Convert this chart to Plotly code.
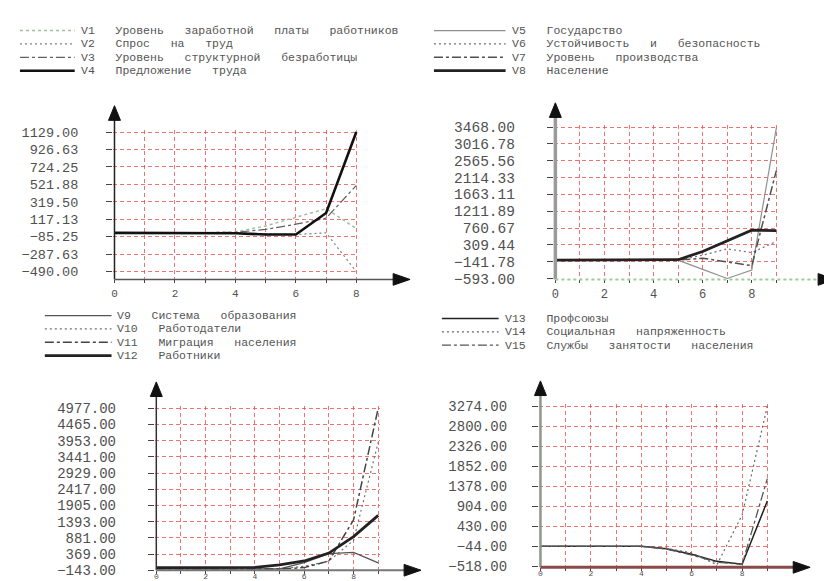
import plotly.graph_objects as go

W, H = 832, 581

# ---------------- data ----------------
X8 = [0, 1, 2, 3, 4, 5, 6, 7, 8]
X9 = [0, 1, 2, 3, 4, 5, 6, 7, 8, 9]

# top-left panel
NAMES_TL = ["V1 Уровень заработной платы работников", "V2 Спрос на труд",
            "V3 Уровень структурной безработицы", "V4 Предложение труда"]
V1 = [-40, -40, -40, -40, -30, 40, 140, 240, 10]
V2 = [-40, -40, -40, -40, -40, -50, -60, -40, -490]
V3 = [-40, -40, -40, -40, -35, 0, 60, 130, 510]
V4 = [-40, -40, -40, -40, -45, -60, -60, 190, 1129]
YT_TL = [1129.00, 926.63, 724.25, 521.88, 319.50, 117.13, -85.25, -287.63, -490.00]

# top-right panel
NAMES_TR = ["V5 Государство", "V6 Устойчивость и безопасность",
            "V7 Уровень производства", "V8 Население"]
V5 = [-100, -100, -100, -100, -100, -100, -350, -593, -370, 3440]
V6 = [-100, -100, -100, -100, -100, -100, 30, 200, 100, 400]
V7 = [-100, -100, -100, -100, -100, -100, -50, -150, -250, 2300]
V8 = [-100, -100, -100, -100, -100, -90, 130, 410, 700, 690]
YT_TR = [3468.00, 3016.78, 2565.56, 2114.33, 1663.11, 1211.89, 760.67, 309.44, -141.78, -593.00]

# bottom-left panel
NAMES_BL = ["V9 Система образования", "V10 Работодатели",
            "V11 Миграция населения", "V12 Работники"]
V9 = [-100, -100, -100, -100, -100, -100, 100, 380, 420, 90]
V10 = [-100, -100, -100, -100, -100, -100, -20, 150, 800, 3900]
V11 = [-100, -100, -100, -100, -100, -100, -60, 150, 1450, 4977]
V12 = [-60, -60, -60, -60, -50, 30, 150, 400, 920, 1590]
YT_BL = [4977.00, 4465.00, 3953.00, 3441.00, 2929.00, 2417.00, 1905.00, 1393.00, 881.00, 369.00, -143.00]

# bottom-right panel
NAMES_BR = ["V13 Профсоюзы", "V14 Социальная напряженность",
            "V15 Службы занятости населения"]
V13 = [-44, -44, -44, -44, -44, -100, -230, -400, -470, 1030]
V14 = [-44, -44, -44, -44, -44, -90, -200, -480, 700, 3274]
V15 = [-44, -44, -44, -44, -44, -110, -250, -420, -470, 1560]
YT_BR = [3274.00, 2800.00, 2326.00, 1852.00, 1378.00, 904.00, 430.00, -44.00, -518.00]

XT_LABELS8 = ["0", "", "2", "", "4", "", "6", "", "8"]
XT_LABELS9 = ["0", "", "2", "", "4", "", "6", "", "8", ""]

# ---------------- styles / layout ----------------
FONT = "Liberation Mono, Courier New, monospace"
S_TL = [dict(color="#9fbf9f", width=1.5, dash="dot"),
        dict(color="#808080", width=1.2, dash="2px,3px"),
        dict(color="#606060", width=1.2, dash="dashdot"),
        dict(color="#111111", width=2.6, dash="solid")]
S_TR = [dict(color="#909090", width=1.2, dash="solid"),
        dict(color="#707070", width=1.2, dash="2px,3px"),
        dict(color="#505050", width=1.5, dash="dashdot"),
        dict(color="#222222", width=2.8, dash="solid")]
S_BL = [dict(color="#555555", width=1.3, dash="solid"),
        dict(color="#707070", width=1.2, dash="2px,3px"),
        dict(color="#444444", width=1.5, dash="dashdot"),
        dict(color="#222222", width=2.8, dash="solid")]
S_BR = [dict(color="#222222", width=1.5, dash="solid"),
        dict(color="#666666", width=1.2, dash="2px,3px"),
        dict(color="#555555", width=1.3, dash="dashdot")]

panels = [
    dict(x=X8, series=[V1, V2, V3, V4], names=NAMES_TL, styles=S_TL, yt=YT_TL, xt=XT_LABELS8,
         px0=105, px1=348, top_px=122, bot_px=265, dom_top=120, dom_bot=273,
         ytip=95, xtip=402, tickfont=13.5, standoff=25, xfont=11, xlen=3, xstand=0,
         yaxis_line=dict(color="#222222", width=1.5), xaxis_line=dict(color="#555555", width=1.5),
         leg_x0=10, leg_x1=65, leg_tx=69, leg_y0=18),
    dict(x=X9, series=[V5, V6, V7, V8], names=NAMES_TR, styles=S_TR, yt=YT_TR, xt=XT_LABELS9,
         px0=548, px1=770, top_px=117, bot_px=272, dom_top=115, dom_bot=273,
         ytip=92, xtip=829, tickfont=14.5, standoff=29, xfont=12, xlen=3, xstand=0,
         yaxis_line=dict(color="#9a9a9a", width=3.5), xaxis_line=dict(color="#99cc99", width=2, dash="dot"),
         leg_x0=426, leg_x1=498, leg_tx=502, leg_y0=18),
    dict(x=X9, series=[V9, V10, V11, V12], names=NAMES_BL, styles=S_BL, yt=YT_BL, xt=XT_LABELS9,
         px0=147, px1=370, top_px=405, bot_px=571, dom_top=403, dom_bot=571,
         ytip=378, xtip=413, tickfont=14, standoff=29, xfont=8, xlen=3, xstand=-5,
         yaxis_line=dict(color="#333333", width=1.5), xaxis_line=dict(color="#777777", width=2),
         leg_x0=35, leg_x1=102, leg_tx=106, leg_y0=310),
    dict(x=X9, series=[V13, V14, V15], names=NAMES_BR, styles=S_BR, yt=YT_BR, xt=XT_LABELS9,
         px0=533, px1=761, top_px=403, bot_px=567, dom_top=401, dom_bot=568,
         ytip=377, xtip=804, tickfont=14, standoff=22, xfont=8, xlen=3, xstand=-5,
         yaxis_line=dict(color="#8a9a8a", width=2.5), xaxis_line=dict(color="#8b4a4a", width=3),
         leg_x0=434, leg_x1=491, leg_tx=495, leg_y0=313),
]

LEG_DY = 13.7
LEG_FONT = 11.5
WORD_GAP = "\u00a0\u00a0\u00a0"


def fx(px):
    return px / W


def fy(py):
    return 1 - py / H


fig = go.Figure()
shapes = []
annotations = []
layout = {}

for i, p in enumerate(panels, start=1):
    xa = "x" if i == 1 else f"x{i}"
    ya = "y" if i == 1 else f"y{i}"
    xmax = p["x"][-1]
    # x mapping
    sx = (p["px1"] - p["px0"]) / xmax
    xr = [-1.5 / sx, xmax + 1.5 / sx]
    xd = [fx(p["px0"] - 1.5), fx(p["px1"] + 1.5)]
    # y mapping
    ytop, ybot = p["yt"][0], p["yt"][-1]
    sy = (p["bot_px"] - p["top_px"]) / (ytop - ybot)
    yr = [ybot - (p["dom_bot"] - p["bot_px"]) / sy, ytop + (p["top_px"] - p["dom_top"]) / sy]
    yd = [fy(p["dom_bot"]), fy(p["dom_top"])]

    for vals, name, st in zip(p["series"], p["names"], p["styles"]):
        fig.add_trace(go.Scatter(x=p["x"], y=vals, name=name, mode="lines", line=st,
                                 xaxis=xa, yaxis=ya, showlegend=False))

    grid = dict(showgrid=True, gridcolor="rgba(232,70,70,0.75)", gridwidth=1, griddash="4px,3px",
                zeroline=False, showline=False, ticks="outside", tickcolor="#444444",
                tickwidth=1.2, fixedrange=True)
    layout["xaxis" if i == 1 else f"xaxis{i}"] = dict(
        grid, domain=xd, range=xr, anchor=ya, tickmode="array", tickvals=p["x"], ticktext=p["xt"],
        ticklen=p["xlen"], ticklabelstandoff=p["xstand"],
        tickfont=dict(family=FONT, size=p["xfont"], color="#505050"))
    layout["yaxis" if i == 1 else f"yaxis{i}"] = dict(
        grid, domain=yd, range=yr, anchor=xa, tickmode="array", tickvals=p["yt"], tickformat=".2f",
        ticklen=6, ticklabelstandoff=p["standoff"],
        tickfont=dict(family=FONT, size=p["tickfont"], color="#505050"))

    # axis lines with arrows
    ox, oy = p["px0"], p["dom_bot"]
    shapes.append(dict(type="line", xref="paper", yref="paper", x0=fx(ox), y0=fy(oy), x1=fx(ox),
                       y1=fy(p["ytip"] + 8), line=p["yaxis_line"], layer="above"))
    shapes.append(dict(type="line", xref="paper", yref="paper", x0=fx(ox), y0=fy(oy),
                       x1=fx(p["xtip"] - 8), y1=fy(oy), line=p["xaxis_line"], layer="above"))
    t = p["ytip"]
    shapes.append(dict(type="path", xref="paper", yref="paper", layer="above",
                       path=f"M{fx(ox)},{fy(t)} L{fx(ox - 6)},{fy(t + 15)} L{fx(ox + 6)},{fy(t + 15)} Z",
                       fillcolor="#111111", line=dict(color="#111111", width=1)))
    t = p["xtip"]
    shapes.append(dict(type="path", xref="paper", yref="paper", layer="above",
                       path=f"M{fx(t)},{fy(oy)} L{fx(t - 17)},{fy(oy - 6)} L{fx(t - 17)},{fy(oy + 6)} Z",
                       fillcolor="#111111", line=dict(color="#111111", width=1)))

    # hand-made legend
    for k, (name, st) in enumerate(zip(p["names"], p["styles"])):
        ly = p["leg_y0"] + k * LEG_DY
        shapes.append(dict(type="line", xref="paper", yref="paper", x0=fx(p["leg_x0"]), x1=fx(p["leg_x1"]),
                           y0=fy(ly), y1=fy(ly), line=st))
        annotations.append(dict(xref="paper", yref="paper", x=fx(p["leg_tx"]), y=fy(ly),
                                xanchor="left", yanchor="middle", showarrow=False,
                                text=name.replace(" ", WORD_GAP),
                                font=dict(family=FONT, size=LEG_FONT, color="#555555")))

fig.update_layout(**layout)
fig.update_layout(width=W, height=H, margin=dict(l=0, r=0, t=0, b=0),
                  paper_bgcolor="white", plot_bgcolor="white",
                  shapes=shapes, annotations=annotations, showlegend=False)

fig.write_html("out.html")
